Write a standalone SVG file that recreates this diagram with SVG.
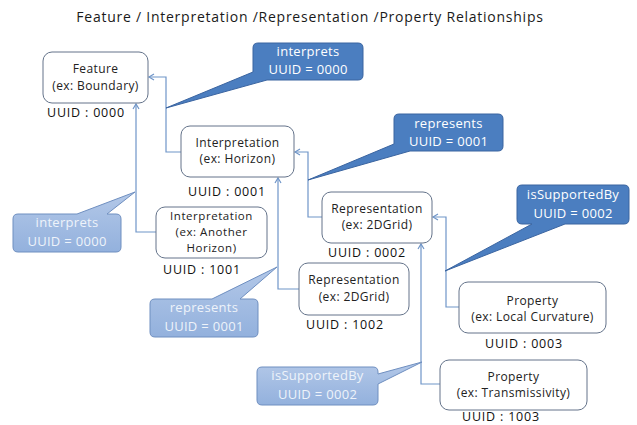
<svg xmlns="http://www.w3.org/2000/svg" width="637" height="425" viewBox="0 0 637 425">
<style>
.bg{fill:#ffffff}
.title{font-family:"Open Sans","Liberation Sans",sans-serif;font-size:14px;letter-spacing:0.75px;fill:#1a1a1a;text-anchor:middle}
.node rect{fill:#ffffff;stroke:#64738a;stroke-width:1}
.node text{font-family:"Open Sans","Liberation Sans",sans-serif;font-size:12px;letter-spacing:0.4px;fill:#222;text-anchor:middle}
.node text.sm{font-size:11.5px;letter-spacing:0.55px}
.node text.uuid{font-size:12.5px;letter-spacing:0.8px;fill:#111;text-anchor:start}
.conn path{fill:none;stroke:#6f95c8;stroke-width:1.2}
.dark path{fill:#4b7ec0;stroke:#3a64a0;stroke-width:1}
.dark text{font-family:"Open Sans","Liberation Sans",sans-serif;font-size:13px;letter-spacing:0.3px;fill:#ffffff;text-anchor:middle}
.light path{fill:url(#lg);stroke:#6f8fc0;stroke-width:1}
.light text{font-family:"Open Sans","Liberation Sans",sans-serif;font-size:13px;letter-spacing:0.3px;fill:#eef3fa;text-anchor:middle}
</style>
<defs>
<linearGradient id="lg" x1="0" y1="0" x2="0" y2="1">
<stop offset="0" stop-color="#b3c8e8"/>
<stop offset="1" stop-color="#93b1dd"/>
</linearGradient>
<marker id="arr" markerWidth="8" markerHeight="8" refX="6" refY="4" orient="auto" markerUnits="userSpaceOnUse">
<path d="M1,1 L6,4 L1,7" fill="none" stroke="#6f95c8" stroke-width="1.2"/>
</marker>
</defs>
<rect class="bg" x="0" y="0" width="637" height="425"/>
<text class="title" x="310" y="22">Feature / Interpretation /Representation /Property Relationships</text>

<g id="connectors" class="conn">
<path d="M181,152 H166 V77 H149" marker-end="url(#arr)"/>
<path d="M156,232 H136 V104" marker-end="url(#arr)"/>
<path d="M322,217 H308 V152 H295" marker-end="url(#arr)"/>
<path d="M299,289 H278 V178" marker-end="url(#arr)"/>
<path d="M459,307 H446 V217 H433" marker-end="url(#arr)"/>
<path d="M440,384 H421 V244" marker-end="url(#arr)"/>
</g>

<g id="feature" class="node">
<rect x="43" y="52" width="105" height="51" rx="9"/>
<text x="95.5" y="73">Feature</text>
<text x="95.5" y="90">(ex: Boundary)</text>
<text class="uuid" x="47" y="117">UUID : 0000</text>
</g>
<g id="interp-horizon" class="node">
<rect x="181" y="126" width="113" height="51" rx="9"/>
<text x="237.5" y="147">Interpretation</text>
<text x="237.5" y="163">(ex: Horizon)</text>
<text class="uuid" x="188" y="196">UUID : 0001</text>
</g>
<g id="interp-another" class="node">
<rect x="156" y="207" width="111" height="51" rx="9"/>
<text class="sm" x="211.5" y="220">Interpretation</text>
<text class="sm" x="211.5" y="236">(ex: Another</text>
<text class="sm" x="211.5" y="252">Horizon)</text>
<text class="uuid" x="163" y="274">UUID : 1001</text>
</g>
<g id="rep-2dgrid" class="node">
<rect x="322" y="192" width="110" height="51" rx="9"/>
<text x="377" y="213">Representation</text>
<text x="377" y="229">(ex: 2DGrid)</text>
<text class="uuid" x="328" y="257">UUID : 0002</text>
</g>
<g id="rep-2dgrid-1002" class="node">
<rect x="299" y="263" width="110" height="52" rx="9"/>
<text x="354" y="284">Representation</text>
<text x="354" y="301">(ex: 2DGrid)</text>
<text class="uuid" x="306" y="329">UUID : 1002</text>
</g>
<g id="prop-curvature" class="node">
<rect x="459" y="282" width="147" height="51" rx="9"/>
<text x="532.5" y="305">Property</text>
<text x="532.5" y="321">(ex: Local Curvature)</text>
<text class="uuid" x="485" y="348">UUID : 0003</text>
</g>
<g id="prop-transmissivity" class="node">
<rect x="440" y="360" width="147" height="50" rx="9"/>
<text x="513.5" y="381">Property</text>
<text x="513.5" y="397">(ex: Transmissivity)</text>
<text class="uuid" x="462" y="421">UUID : 1003</text>
</g>

<g id="callout-interprets" class="dark">
<path d="M258,43 H358 Q363,43 363,48 V75 Q363,80 358,80 H267 L166,108 L253,72 V48 Q253,43 258,43 Z"/>
<text x="308" y="56">interprets</text>
<text x="308" y="74">UUID = 0000</text>
</g>
<g id="callout-represents" class="dark">
<path d="M399,114 H498 Q503,114 503,119 V146 Q503,151 498,151 H410 L308,180 L394,144 V119 Q394,114 399,114 Z"/>
<text x="448.5" y="128">represents</text>
<text x="448.5" y="146">UUID = 0001</text>
</g>
<g id="callout-supported" class="dark">
<path d="M522,185 H624 Q629,185 629,190 V219 Q629,224 624,224 H565 L445,271 L532,224 H522 Q517,224 517,219 V190 Q517,185 522,185 Z"/>
<text x="573" y="199">isSupportedBy</text>
<text x="573" y="218">UUID = 0002</text>
</g>
<g id="callout-interprets-2" class="light">
<path d="M18,214 H77 L135,192 L107,214 H116 Q121,214 121,219 V247 Q121,252 116,252 H18 Q13,252 13,247 V219 Q13,214 18,214 Z"/>
<text x="67" y="227">interprets</text>
<text x="67" y="246">UUID = 0000</text>
</g>
<g id="callout-represents-2" class="light">
<path d="M155,299 H212 L277,267 L240,299 H253 Q258,299 258,304 V332 Q258,337 253,337 H155 Q150,337 150,332 V304 Q150,299 155,299 Z"/>
<text x="204" y="312">represents</text>
<text x="204" y="331">UUID = 0001</text>
</g>
<g id="callout-supported-2" class="light">
<path d="M262,367 H373 Q378,367 378,372 V374 L422,362 L378,384 V400 Q378,405 373,405 H262 Q257,405 257,400 V372 Q257,367 262,367 Z"/>
<text x="317.5" y="380">isSupportedBy</text>
<text x="317.5" y="399">UUID = 0002</text>
</g>
</svg>
